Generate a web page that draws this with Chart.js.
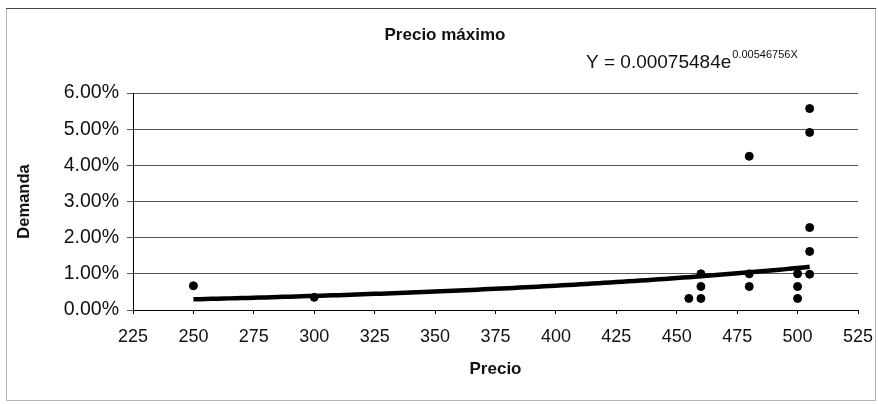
<!DOCTYPE html>
<html>
<head>
<meta charset="utf-8">
<script src="https://cdn.jsdelivr.net/npm/chart.js@4/dist/chart.umd.min.js"></script>
<style>
  html, body { margin: 0; padding: 0; background: #fff; }
  #wrap { width: 878px; height: 404px; }
</style>
</head>
<body>
<div id="wrap"><canvas id="c" width="878" height="404"></canvas></div>
<script>
// Observed price / demand pairs (demand in percent)
const precios  = [250, 300, 455, 460, 460, 460, 480, 480, 480, 500, 500, 500, 505, 505, 505, 505, 505];
const demandas = [0.67, 0.35, 0.32, 1.00, 0.65, 0.32, 4.25, 1.00, 0.65, 1.00, 0.65, 0.32, 5.57, 4.91, 2.28, 1.62, 0.99];

// Exponential trend Y = a * e^(b X), fitted over the observed price range
const trendA = 0.00075484;
const trendB = 0.00546756;
const trendDesde = 250;
const trendHasta = 505;

// Axis ticks
const xTicks = [225, 250, 275, 300, 325, 350, 375, 400, 425, 450, 475, 500, 525];
const yTicks = [0, 1, 2, 3, 4, 5, 6];

const titulo = 'Precio máximo';
const ecuacionBase = 'Y = 0.00075484e';
const ecuacionExp = '0.00546756X';

const puntos = precios.map((p, i) => ({ x: p, y: demandas[i] }));

const curva = [];
for (let x = trendDesde; x <= trendHasta; x += 5) {
  curva.push({ x: x, y: trendA * Math.exp(trendB * x) * 100 });
}

const FONT = '"Liberation Sans", Arial, sans-serif';

const header = {
  id: 'header',
  beforeDraw(chart) {
    const ctx = chart.ctx;
    ctx.save();
    ctx.fillStyle = '#fff';
    ctx.fillRect(0, 0, chart.width, chart.height);
    // frame
    ctx.lineWidth = 1;
    ctx.strokeStyle = '#b5b5b5';
    ctx.strokeRect(6.5, 8.5, 869, 392);
    ctx.strokeStyle = '#444';
    ctx.beginPath(); ctx.moveTo(6, 8.5); ctx.lineTo(876, 8.5); ctx.stroke();
    ctx.restore();
  },
  afterDraw(chart) {
    const ctx = chart.ctx;
    ctx.save();
    ctx.fillStyle = '#111';
    ctx.textBaseline = 'alphabetic';
    ctx.textAlign = 'center';
    ctx.font = 'bold 17px ' + FONT;
    ctx.fillText(titulo, 445, 40);
    ctx.textAlign = 'left';
    ctx.font = '19px ' + FONT;
    ctx.fillText(ecuacionBase, 586, 68);
    const w = ctx.measureText(ecuacionBase).width;
    ctx.font = '11px ' + FONT;
    ctx.fillText(ecuacionExp, 586 + w + 1, 58);
    ctx.restore();
  }
};

new Chart(document.getElementById('c'), {
  type: 'scatter',
  data: {
    datasets: [
      {
        label: 'Demanda',
        data: puntos,
        backgroundColor: '#000',
        borderColor: '#000',
        pointRadius: 4,
        pointHoverRadius: 4,
        order: 2
      },
      {
        label: 'Tendencia',
        type: 'line',
        data: curva,
        borderColor: '#000',
        borderWidth: 4.5,
        pointRadius: 0,
        tension: 0.3,
        fill: false,
        order: 1
      }
    ]
  },
  options: {
    responsive: false,
    animation: false,
    devicePixelRatio: 1,
    layout: { padding: { left: 6, right: 20, top: 93, bottom: 0 } },
    plugins: {
      legend: { display: false },
      title: { display: false },
      tooltip: { enabled: false }
    },
    scales: {
      x: {
        type: 'linear',
        min: 225,
        max: 525,
        afterBuildTicks(scale) { scale.ticks = xTicks.map(v => ({ value: v })); },
        afterFit(scale) {
          scale.height = 94;
          scale.paddingLeft = 0;
          scale.paddingRight = 0;
        },
        border: { display: true, color: '#000', width: 1 },
        grid: { display: true, drawOnChartArea: false, drawTicks: true, tickLength: 4, color: '#000' },
        ticks: {
          color: '#111',
          padding: 12,
          maxRotation: 0,
          autoSkip: false,
          font: { family: FONT, size: 18 },
          callback: v => String(v)
        },
        title: {
          display: true,
          text: 'Precio',
          color: '#111',
          font: { family: FONT, size: 17, weight: 'bold' },
          padding: { top: 0, bottom: 24 }
        }
      },
      y: {
        type: 'linear',
        min: 0,
        max: 6,
        afterBuildTicks(scale) { scale.ticks = yTicks.map(v => ({ value: v })); },
        afterFit(scale) {
          scale.width = 127;
          scale.paddingTop = 0;
          scale.paddingBottom = 0;
        },
        border: { display: true, color: '#000', width: 1 },
        grid: { display: true, drawOnChartArea: true, drawTicks: true, tickLength: 6, color: '#555' },
        ticks: {
          color: '#111',
          padding: 8,
          autoSkip: false,
          font: { family: FONT, size: 19.5 },
          callback: v => v.toFixed(2) + '%'
        },
        title: {
          display: true,
          text: 'Demanda',
          color: '#111',
          font: { family: FONT, size: 16.5, weight: 'bold' },
          padding: { top: 9, bottom: 0 }
        }
      }
    }
  },
  plugins: [header]
});
</script>
</body>
</html>
